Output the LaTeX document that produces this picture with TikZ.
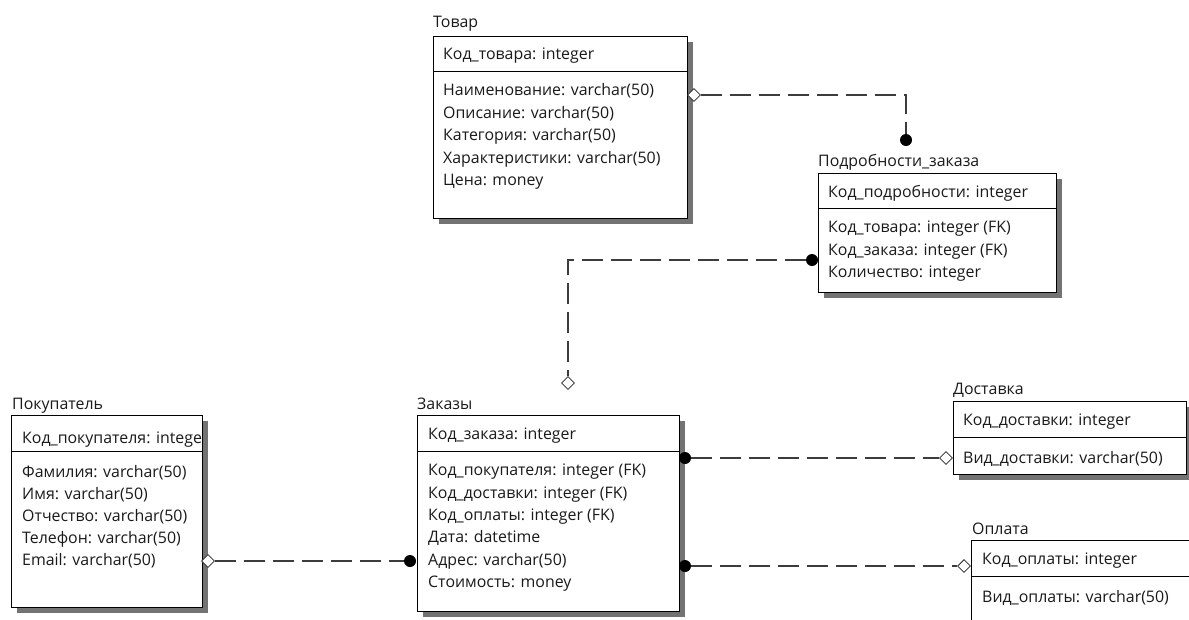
\documentclass[tikz,border=0pt]{standalone}
\usepackage{fontspec}
\setmainfont{Open Sans}
\usetikzlibrary{shapes.geometric}
\definecolor{ink}{HTML}{1A1A1A}
\definecolor{wire}{HTML}{3C3C3C}

% table frame with drop shadow and key divider: name, x, y, width, height, divider y
\newcommand\ertable[6]{%
  \fill[boxshadow] (#2+6,#3+6) rectangle (#2+#4+6,#3+#5+6);
  \node[tbl, minimum width=#4pt, minimum height=#5pt] (#1) at (#2,#3) {};
  \draw[tblline] (#2,#6) -- (#2+#4,#6);
}

\begin{document}
\begin{tikzpicture}[x=1pt,y=-1pt,
  every node/.style={font=\fontsize{15.9}{18}\selectfont, text=ink},
  tbl/.style={draw=black, line width=1pt, fill=white, anchor=north west, inner sep=0pt, outer sep=0pt},
  tblline/.style={draw=black, line width=1pt},
  boxshadow/.style={fill=black!55},
  title/.style={anchor=base west, inner sep=0pt},
  field/.style={anchor=base west, inner sep=0pt},
  rel/.style={draw=wire, line width=1.3pt, dash pattern=on 21pt off 8pt},
  fkend/.style={circle, fill=black, inner sep=0pt, minimum size=12pt},
  pkend/.style={diamond, draw=black!85, fill=white, line width=0.8pt, inner sep=0pt, minimum width=13pt, minimum height=13pt}]

\fill[white] (0,0) rectangle (1189,619);
\useasboundingbox (0,0) rectangle (1189,619);
\clip (0,0) rectangle (1189,619);

% ---------- Товар ----------
\node[title] (tTovar) at (433,27) {Товар};
\ertable{tovar}{433}{36}{254}{182}{71}
\node[field] (tovarK) at (443,59) {Код\_товара: integer};
\node[field] (tovarA) at (443,95) {Наименование: varchar(50)};
\node[field] (tovarB) at (443,118) {Описание: varchar(50)};
\node[field] (tovarC) at (443,140) {Категория: varchar(50)};
\node[field] (tovarD) at (443,163) {Характеристики: varchar(50)};
\node[field] (tovarE) at (443,185) {Цена: money};

% ---------- Подробности_заказа ----------
\node[title] (tPodr) at (818,166) {Подробности\_заказа};
\ertable{podr}{818}{173}{238}{119}{208}
\node[field] (podrK) at (828,197) {Код\_подробности: integer};
\node[field] (podrA) at (828,232) {Код\_товара: integer (FK)};
\node[field] (podrB) at (828,255) {Код\_заказа: integer (FK)};
\node[field] (podrC) at (828,277) {Количество: integer};

% ---------- Покупатель ----------
\node[title] (tPok) at (12,409) {Покупатель};
\ertable{pok}{11}{415}{191}{192}{451}
\begin{scope}
  \clip (11,415) rectangle (201,451);
  \node[field] (pokK) at (22,443) {Код\_покупателя: integer};
\end{scope}
\node[field] (pokA) at (22,477) {Фамилия: varchar(50)};
\node[field] (pokB) at (22,499) {Имя: varchar(50)};
\node[field] (pokC) at (22,521) {Отчество: varchar(50)};
\node[field] (pokD) at (22,543) {Телефон: varchar(50)};
\node[field] (pokE) at (22,565) {Email: varchar(50)};

% ---------- Заказы ----------
\node[title] (tZak) at (417,409) {Заказы};
\ertable{zak}{417}{415}{262}{196}{451}
\node[field] (zakK) at (428,439) {Код\_заказа: integer};
\node[field] (zakA) at (428,475) {Код\_покупателя: integer (FK)};
\node[field] (zakB) at (428,498) {Код\_доставки: integer (FK)};
\node[field] (zakC) at (428,520) {Код\_оплаты: integer (FK)};
\node[field] (zakD) at (428,542) {Дата: datetime};
\node[field] (zakE) at (428,565) {Адрес: varchar(50)};
\node[field] (zakF) at (428,587) {Стоимость: money};

% ---------- Доставка ----------
\node[title] (tDost) at (953,394) {Доставка};
\ertable{dost}{953}{401}{233}{73}{437}
\node[field] (dostK) at (963,425) {Код\_доставки: integer};
\node[field] (dostA) at (963,463) {Вид\_доставки: varchar(50)};

% ---------- Оплата ----------
\node[title] (tOpl) at (972,534) {Оплата};
\ertable{opl}{971}{540}{240}{120}{576}
\node[field] (oplK) at (982,564) {Код\_оплаты: integer};
\node[field] (oplA) at (982,602) {Вид\_оплаты: varchar(50)};

% ---------- relationship ends ----------
\node[pkend] (pTovar) at (694,95) {};
\node[fkend] (fPodrT) at (906,140) {};
\node[fkend] (fPodrZ) at (812,260) {};
\node[pkend] (pZakTop) at (568,383) {};
\node[pkend] (pPok) at (208,561) {};
\node[fkend] (fZakP) at (410,561) {};
\node[fkend] (fZakD) at (685,458) {};
\node[pkend] (pDost) at (946,458) {};
\node[fkend] (fZakO) at (685,566) {};
\node[pkend] (pOpl) at (964,566) {};

% ---------- relationships ----------
\draw[rel] (pTovar.east) -| (fPodrT.north);
\draw[rel] (fPodrZ.west) -| (pZakTop.north);
\draw[rel] (pPok.east) -- (fZakP.west);
\draw[rel] (fZakD.east) -- (pDost.west);
\draw[rel] (fZakO.east) -- (pOpl.west);
\end{tikzpicture}
\end{document}
